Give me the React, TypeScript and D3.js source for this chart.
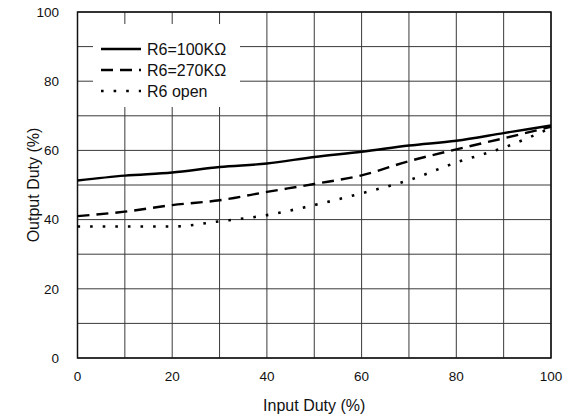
import React from "react";
import * as d3 from "d3";

const inputDuty = [0, 10, 20, 30, 40, 50, 60, 70, 80, 90, 100];
const r100k = [51.3, 52.7, 53.6, 55.2, 56.2, 58.1, 59.6, 61.4, 62.8, 65.0, 67.2];
const r270k = [41.0, 42.3, 44.2, 45.6, 48.0, 50.3, 52.8, 56.9, 60.3, 63.5, 66.8];
const rOpen = [38.0, 38.0, 38.0, 39.5, 41.3, 44.2, 47.6, 51.4, 56.5, 60.8, 66.5];
const xTickLabels = [0, 20, 40, 60, 80, 100];
const yTickLabels = [0, 20, 40, 60, 80, 100];
const gridValues = [0, 10, 20, 30, 40, 50, 60, 70, 80, 90, 100];
const legendLabels = ["R6=100KΩ", "R6=270KΩ", "R6 open"];

const W = 569, H = 417;
const L = 77.5, R = 551, T = 12, B = 358;
const FONT = "'Liberation Sans', Arial, Helvetica, sans-serif";

export default function App() {
  const x = d3.scaleLinear().domain([0, 100]).range([L, R]);
  const y = d3.scaleLinear().domain([0, 100]).range([B, T]);
  const line = d3
    .line<number>()
    .x((_, i) => x(inputDuty[i]))
    .y((d) => y(d))
    .curve(d3.curveMonotoneX);

  const series = [
    { data: r100k, dash: undefined as string | undefined, width: 2.4 },
    { data: r270k, dash: "12,7", width: 2.4 },
    { data: rOpen, dash: "2.6,10", width: 2.6 },
  ];

  const legendX0 = 101, legendX1 = 141;
  const legendY = [49, 70, 91];

  return (
    <svg width={W} height={H} style={{ position: "absolute", left: 0, top: 0, background: "#fff" }}>
      <rect x={0} y={0} width={W} height={H} fill="#fff" />
      {gridValues.map((v) => (
        <line key={"gx" + v} x1={x(v)} x2={x(v)} y1={T} y2={B} stroke="#3a3a3a" strokeWidth={1} />
      ))}
      {gridValues.map((v) => (
        <line key={"gy" + v} x1={L} x2={R} y1={y(v)} y2={y(v)} stroke="#3a3a3a" strokeWidth={1} />
      ))}
      <rect x={93} y={24} width={147} height={83} fill="#fff" />
      <rect x={L} y={T} width={R - L} height={B - T} fill="none" stroke="#111" strokeWidth={1.5} />
      {series.map((s, i) => (
        <path
          key={"s" + i}
          d={line(s.data) || ""}
          fill="none"
          stroke="#000"
          strokeWidth={s.width}
          strokeDasharray={s.dash}
        />
      ))}
      {series.map((s, i) => (
        <g key={"lg" + i}>
          <line
            x1={legendX0}
            x2={legendX1}
            y1={legendY[i]}
            y2={legendY[i]}
            stroke="#000"
            strokeWidth={s.width}
            strokeDasharray={s.dash}
          />
          <text x={147} y={legendY[i]} dy="0.36em" fontFamily={FONT} fontSize={16} fill="#111">
            {legendLabels[i]}
          </text>
        </g>
      ))}
      {xTickLabels.map((v) => (
        <text key={"xt" + v} x={x(v)} y={376} dy="0.36em" textAnchor="middle" fontFamily={FONT} fontSize={13.5} fill="#111">
          {v}
        </text>
      ))}
      {yTickLabels.map((v) => (
        <text key={"yt" + v} x={59} y={y(v)} dy="0.36em" textAnchor="end" fontFamily={FONT} fontSize={13.5} fill="#111">
          {v}
        </text>
      ))}
      <text x={(L + R) / 2} y={405} dy="0.36em" textAnchor="middle" fontFamily={FONT} fontSize={16} fill="#111">
        Input Duty (%)
      </text>
      <text
        transform={`translate(33, ${(T + B) / 2}) rotate(-90)`}
        dy="0.36em"
        textAnchor="middle"
        fontFamily={FONT}
        fontSize={16}
        fill="#111"
      >
        Output Duty (%)
      </text>
    </svg>
  );
}
